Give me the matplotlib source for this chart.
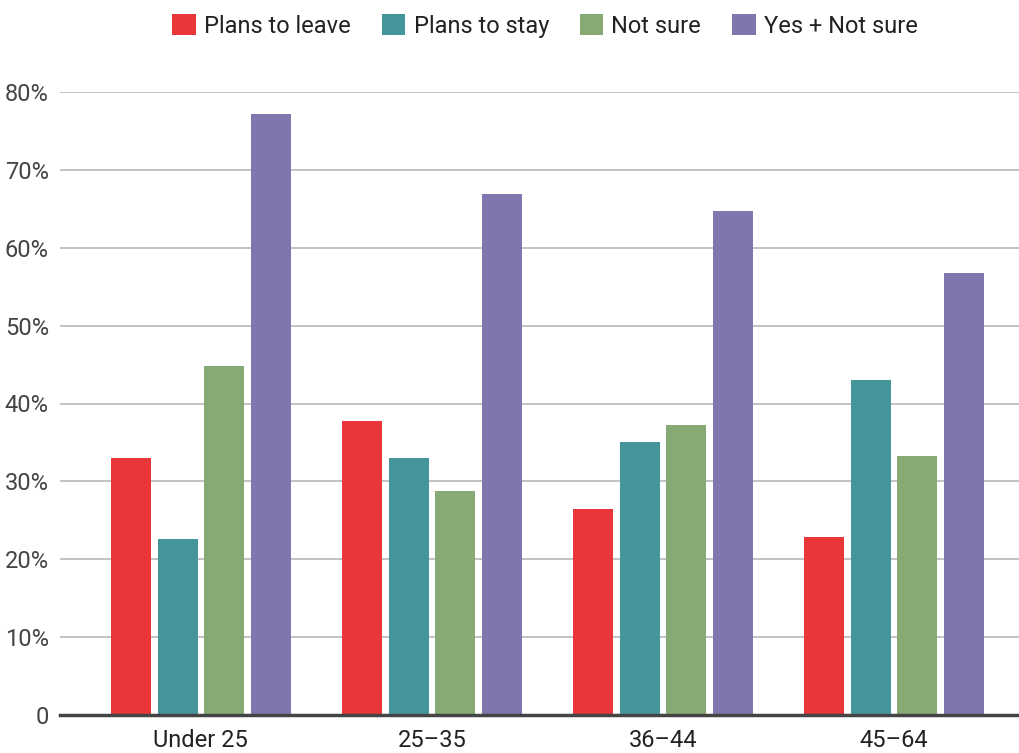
"""
Grouped bar chart: plans to leave / stay by age group.
"""
import matplotlib.pyplot as plt
import numpy as np

# data
age_groups = ["Under 25", "25\u201335", "36\u201344", "45\u201364"]
series_names = ["Plans to leave", "Plans to stay", "Not sure", "Yes + Not sure"]
plans_to_leave = [33.0, 37.8, 26.5, 22.9]
plans_to_stay = [22.6, 33.0, 35.1, 43.0]
not_sure = [44.8, 28.8, 37.3, 33.2]
yes_not_sure = [77.2, 66.9, 64.7, 56.8]
y_ticks = [0, 10, 20, 30, 40, 50, 60, 70, 80]
y_tick_labels = ["0", "10%", "20%", "30%", "40%", "50%", "60%", "70%", "80%"]

colors = ["#E9363B", "#44969B", "#87AA74", "#7E77AD"]

plt.rcParams["font.family"] = ["Roboto", "DejaVu Sans"]

fig = plt.figure(figsize=(10.19, 7.53), dpi=100)
ax = fig.add_axes([60/1019, 38/753, 975/1019, 623/753])

x = np.arange(len(age_groups))
width = 0.173
step = 0.202
all_series = [plans_to_leave, plans_to_stay, not_sure, yes_not_sure]
for j, values in enumerate(all_series):
    ax.bar(x + (j - 1.5)*step, values, width=width, color=colors[j],
           label=series_names[j], zorder=3)

ax.set_xlim(-0.61, 3.61)
ax.set_ylim(0, 80)
ax.set_yticks(y_ticks)
ax.set_yticklabels(y_tick_labels)
ax.set_xticks(x)
ax.set_xticklabels(age_groups)
ax.grid(True, axis="y", color="#BDBDBD", linewidth=1.3, zorder=0)
ax.tick_params(axis="y", length=0, pad=8, labelsize=17, labelcolor="#444444")
ax.tick_params(axis="x", length=0, pad=10, labelsize=17, labelcolor="#222222")
for side in ["top", "right", "left"]:
    ax.spines[side].set_visible(False)
ax.spines["bottom"].set_color("#444444")
ax.spines["bottom"].set_linewidth(2.5)
ax.spines["bottom"].set_zorder(4)

fig.legend(loc="center", bbox_to_anchor=(545/1019, 1 - 26/753), ncol=4,
           frameon=False, fontsize=17, handlelength=1.0, handleheight=1.0,
           handletextpad=0.35, columnspacing=1.3, labelcolor="#222222")

fig.savefig("out.png", dpi=100)
